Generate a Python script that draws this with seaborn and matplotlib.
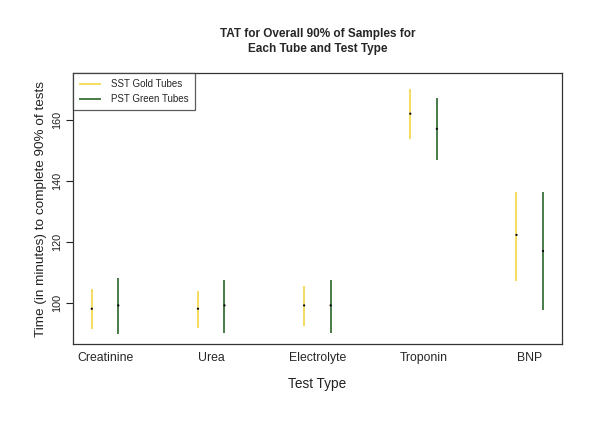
import matplotlib
matplotlib.use("Agg")
import matplotlib.pyplot as plt
import seaborn as sns
import pandas as pd
import numpy as np

categories = ["Creatinine", "Urea", "Electrolyte", "Troponin", "BNP"]
sst_center = [98.0, 98.0, 99.1, 162.2, 122.3]
sst_low = [91.4, 91.8, 92.4, 153.8, 107.1]
sst_high = [104.4, 103.9, 105.6, 170.3, 136.5]
pst_center = [99.1, 99.1, 99.1, 157.2, 117.0]
pst_low = [89.7, 89.9, 89.9, 146.8, 97.7]
pst_high = [108.0, 107.6, 107.6, 167.2, 136.3]
series = ["SST Gold Tubes", "PST Green Tubes"]
colors = {"SST Gold Tubes": "#F3D955", "PST Green Tubes": "#3A723A"}

rows = []
for i, c in enumerate(categories):
    rows.append(dict(cat=c, idx=i + 1, tube=series[0], center=sst_center[i], low=sst_low[i], high=sst_high[i]))
    rows.append(dict(cat=c, idx=i + 1, tube=series[1], center=pst_center[i], low=pst_low[i], high=pst_high[i]))
df = pd.DataFrame(rows)
offset = {series[0]: -0.125, series[1]: 0.125}
df["xpos"] = df["idx"] + df["tube"].map(offset)

sns.set_style("white")
plt.rcParams["font.family"] = ["Liberation Sans", "DejaVu Sans"]

fig = plt.figure(figsize=(6, 4.36), dpi=100)
ax = fig.add_axes([0.122, 0.211, 0.814, 0.621])

for t in series:
    d = df[df["tube"] == t]
    ax.vlines(d["xpos"], d["low"], d["high"], color=colors[t], lw=1.3, label=t)
sns.scatterplot(data=df, x="xpos", y="center", color="black", s=2.5, marker="o",
                edgecolor="none", ax=ax, legend=False, zorder=3)

ax.set_xlim(0.70, 5.30)
ax.set_ylim(86.4, 175.5)
ax.set_xticks(range(1, len(categories) + 1))
ax.set_xticklabels(categories, fontsize=8.8)
ax.tick_params(axis="x", length=0, pad=6)
ax.set_yticks([100, 120, 140, 160])
ax.set_yticklabels(["100", "120", "140", "160"], rotation=90, va="center", fontsize=7.8)
ax.tick_params(axis="y", length=5, width=0.8, direction="out", left=True, pad=3, colors="#222222")
for s in ax.spines.values():
    s.set_color("#333333")
    s.set_linewidth(0.9)

ax.set_xlabel("Test Type", fontsize=9.8, labelpad=9, color="#222222")
ax.set_ylabel("Time (in minutes) to complete 90% of tests", fontsize=9.7, labelpad=4, color="#222222")
ax.set_title("TAT for Overall 90% of Samples for\nEach Tube and Test Type", fontsize=8.5,
             fontweight="bold", pad=15, linespacing=1.35)

leg = ax.legend(loc="upper left", fontsize=7, frameon=True, fancybox=False,
                borderaxespad=0, handlelength=2.3, handletextpad=1.0, borderpad=0.6,
                labelspacing=0.5)
leg.get_frame().set_edgecolor("#333333")
leg.get_frame().set_linewidth(0.9)

fig.savefig("out.png", dpi=100, facecolor="white")
